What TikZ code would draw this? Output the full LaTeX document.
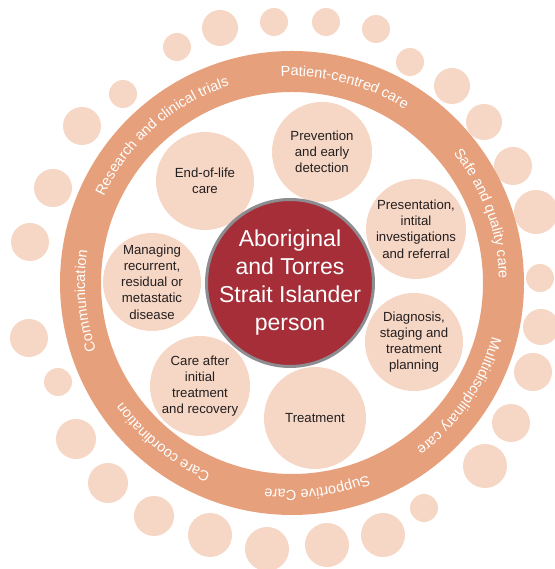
\documentclass[tikz,border=0pt]{standalone}
\usepackage{fontspec}
\setmainfont{Liberation Sans}
\usepackage{tikz}
\usetikzlibrary{calc,decorations.text}

\definecolor{ringorange}{RGB}{231,160,124}
\definecolor{peach}{RGB}{246,214,196}
\definecolor{deepred}{RGB}{166,46,56}
\definecolor{rimgray}{RGB}{140,140,145}
\definecolor{inktext}{RGB}{35,31,32}
\newcommand{\ringfont}{\fontsize{14.5}{17}\selectfont}

\begin{document}
\begin{tikzpicture}[x=1pt, y=1pt,
    bead/.style={circle, fill=peach, inner sep=0pt, minimum size=#1},
    stage/.style={circle, fill=peach, inner sep=0pt, minimum size=100pt, align=center,
        text=inktext, font=\fontsize{13.2}{16.2}\selectfont},
    person/.style={circle, fill=deepred, draw=rimgray, line width=3pt, minimum size=167pt},
    personlabel/.style={align=center, text=white, font=\fontsize{23}{28}\selectfont},
    ringtext/.style={decorate, decoration={text along path, text align=center, text color=white}}
]
    \useasboundingbox (0,0) rectangle (554,569);
    \coordinate (hub) at (292,286);

    % outer beads
    \node[bead=38pt] (b1) at (30,327) {};
    \node[bead=38pt] (b2) at (53,381) {};
    \node[bead=38pt] (b3) at (82,443) {};
    \node[bead=28pt] (b4) at (123,475) {};
    \node[bead=28pt] (b5) at (177,522) {};
    \node[bead=36pt] (b6) at (220,541) {};
    \node[bead=28pt] (b7) at (274,547) {};
    \node[bead=28pt] (b8) at (326,547) {};
    \node[bead=28pt] (b9) at (376,540) {};
    \node[bead=28pt] (b10) at (410,507) {};
    \node[bead=36pt] (b11) at (452,483) {};
    \node[bead=36pt] (b12) at (484,447) {};
    \node[bead=38pt] (b13) at (513,403) {};
    \node[bead=44pt] (b14) at (536,357) {};
    \node[bead=28pt] (b15) at (540,291) {};
    \node[bead=36pt] (b16) at (541,242) {};
    \node[bead=38pt] (b17) at (533,197) {};
    \node[bead=38pt] (b18) at (511,146) {};
    \node[bead=44pt] (b19) at (485,103) {};
    \node[bead=28pt] (b20) at (424,61) {};
    \node[bead=44pt] (b21) at (383,34) {};
    \node[bead=44pt] (b22) at (327,24) {};
    \node[bead=44pt] (b23) at (267,20) {};
    \node[bead=44pt] (b24) at (210,34) {};
    \node[bead=40pt] (b25) at (154,53) {};
    \node[bead=40pt] (b26) at (108,86) {};
    \node[bead=40pt] (b27) at (76,130) {};
    \node[bead=28pt] (b28) at (58,187) {};
    \node[bead=38pt] (b29) at (29,231) {};

    % ring
    \fill[ringorange, even odd rule] (hub) circle[radius=232] (hub) circle[radius=191];

    % ring labels, clockwise
    \path[ringtext, decoration={text={|\ringfont|Patient-centred care}}]
        ($(hub)+(115:207)$) arc[start angle=115, end angle=35, radius=207];
    \path[ringtext, decoration={text={|\ringfont|Safe and quality care}}]
        ($(hub)+(60:207)$) arc[start angle=60, end angle=-20, radius=207];
    \path[ringtext, decoration={text={|\ringfont|Mulitidisciplinary care}}]
        ($(hub)+(6:207)$) arc[start angle=6, end angle=-74, radius=207];
    \path[ringtext, decoration={text={|\ringfont|Supportive Care}}]
        ($(hub)+(-43:207)$) arc[start angle=-43, end angle=-123, radius=207];
    \path[ringtext, decoration={text={|\ringfont|Care coordination}}]
        ($(hub)+(-89:207)$) arc[start angle=-89, end angle=-169, radius=207];
    \path[ringtext, decoration={text={|\ringfont|Communication}}]
        ($(hub)+(225:207)$) arc[start angle=225, end angle=145, radius=207];
    \path[ringtext, decoration={text={|\ringfont|Research and clinical trials}}]
        ($(hub)+(171.5:207)$) arc[start angle=171.5, end angle=91.5, radius=207];

    % stages of care
    \node[stage] (prevention) at (322,417) {Prevention\\and early\\detection};
    \node[stage, minimum size=98pt] (endoflife) at (205,388) {End-of-life\\care};
    \node[stage] (presentation) at (416,340) {Presentation,\\intital\\investigations\\and referral};
    \node[stage, minimum size=98pt] (diagnosis) at (414,227) {Diagnosis,\\staging and\\treatment\\planning};
    \node[stage, minimum size=102pt] (treatment) at (315,151) {Treatment};
    \node[stage] (aftercare) at (200,183) {Care after\\initial\\treatment\\and recovery};
    \node[stage, minimum size=98pt] (managing) at (152,287) {Managing\\recurrent,\\residual or\\metastatic\\disease};

    % centre
    \node[person] (person) at (290,286) {};
    \node[personlabel] (personname) at (person) {Aboriginal\\and Torres\\Strait Islander\\person};
\end{tikzpicture}
\end{document}
